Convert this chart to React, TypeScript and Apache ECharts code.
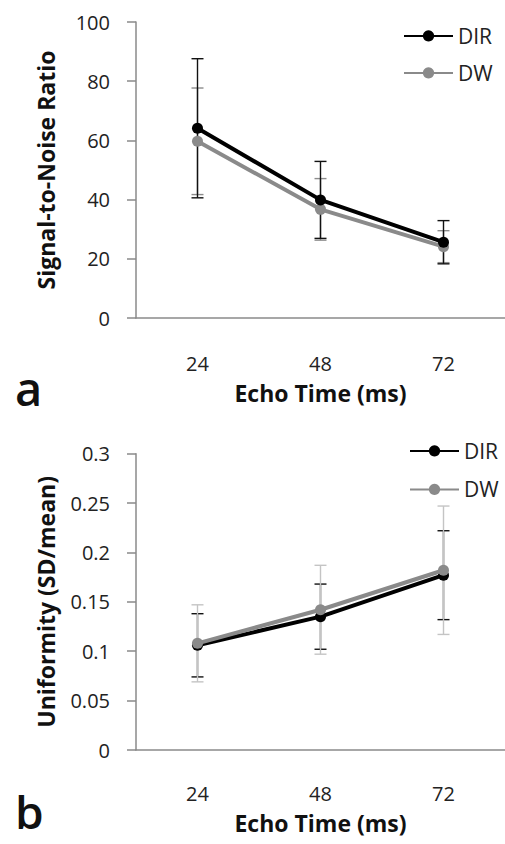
import React, { useEffect, useRef } from "react";
import * as echarts from "echarts";

// Echo times (ms)
const categories = ["24", "48", "72"];

// Panel a: signal-to-noise ratio, mean and SD
const snrDir = [64.1, 39.9, 25.6];
const snrDirSd = [23.5, 13.0, 7.3];
const snrDw = [59.7, 36.7, 24.1];
const snrDwSd = [18.0, 10.4, 5.4];

// Panel b: uniformity (SD/mean), mean and SD
const uniDir = [0.106, 0.135, 0.177];
const uniDirSd = [0.032, 0.033, 0.045];
const uniDw = [0.108, 0.142, 0.182];
const uniDwSd = [0.039, 0.045, 0.065];

const FONT = "'Open Sans', 'Noto Sans', sans-serif";
const TEXT = "#222222";
const AXIS = "#8a8a8a";

function errorData(mean: number[], sd: number[]) {
  return mean.map((m, i) => [i, m - sd[i], m + sd[i]]);
}

function errorBars(
  name: string,
  mean: number[],
  sd: number[],
  color: string,
  axis: number,
  z: number
) {
  return {
    type: "custom",
    name: name + " SD",
    xAxisIndex: axis,
    yAxisIndex: axis,
    z,
    silent: true,
    encode: { x: 0, y: [1, 2] },
    data: errorData(mean, sd),
    renderItem: (_params: any, api: any) => {
      const x = api.value(0);
      const lo = api.coord([x, api.value(1)]);
      const hi = api.coord([x, api.value(2)]);
      const w = 6;
      const style = { stroke: color, lineWidth: 1.4 };
      return {
        type: "group",
        children: [
          { type: "line", shape: { x1: hi[0], y1: hi[1], x2: lo[0], y2: lo[1] }, style },
          { type: "line", shape: { x1: hi[0] - w, y1: hi[1], x2: hi[0] + w, y2: hi[1] }, style },
          { type: "line", shape: { x1: lo[0] - w, y1: lo[1], x2: lo[0] + w, y2: lo[1] }, style },
        ],
      };
    },
  };
}

function lineSeries(name: string, data: number[], color: string, axis: number, z: number) {
  return {
    type: "line",
    name,
    xAxisIndex: axis,
    yAxisIndex: axis,
    data,
    z,
    symbol: "circle",
    symbolSize: 11,
    itemStyle: { color },
    lineStyle: { color, width: 4 },
  };
}

function xAxis(grid: number, margin: number, nameGap: number) {
  return {
    type: "category",
    gridIndex: grid,
    data: categories,
    boundaryGap: true,
    axisTick: { show: false },
    axisLine: { lineStyle: { color: AXIS, width: 1.5 } },
    axisLabel: { color: TEXT, fontSize: 20, fontFamily: FONT, margin },
    name: "Echo Time (ms)",
    nameLocation: "middle",
    nameGap,
    nameTextStyle: { color: "#111", fontSize: 23, fontWeight: "bold", fontFamily: FONT },
  };
}

function yAxis(
  grid: number,
  max: number,
  interval: number,
  name: string,
  fmt: (v: number) => string
) {
  return {
    type: "value",
    gridIndex: grid,
    min: 0,
    max,
    interval,
    splitLine: { show: false },
    axisLine: { show: true, lineStyle: { color: AXIS, width: 1.5 } },
    axisTick: { show: true, length: 9, lineStyle: { color: AXIS, width: 1.5 } },
    axisLabel: { color: TEXT, fontSize: 20, fontFamily: FONT, margin: 26, formatter: fmt },
    name,
    nameLocation: "middle",
    nameGap: 79,
    nameTextStyle: { color: "#111", fontSize: 23, fontWeight: "bold", fontFamily: FONT },
  };
}

function legend(left: number, top: number, gap: number) {
  return {
    orient: "vertical",
    left,
    top,
    padding: 0,
    itemWidth: 49,
    itemHeight: 14,
    itemGap: gap,
    data: ["DIR", "DW"],
    textStyle: { color: TEXT, fontSize: 21, fontFamily: FONT },
  };
}

export default function App() {
  const ref = useRef<HTMLDivElement>(null);

  useEffect(() => {
    if (!ref.current) return;
    const chart = echarts.init(ref.current, undefined, { renderer: "svg" });
    chart.setOption({
      animation: false,
      backgroundColor: "#ffffff",
      grid: [
        { left: 136, top: 22, width: 375, height: 296 },
        { left: 136, top: 453.7, width: 375, height: 296.3 },
      ],
      xAxis: [xAxis(0, 35, 63), xAxis(1, 33, 61)],
      yAxis: [
        yAxis(0, 100, 20, "Signal-to-Noise Ratio", (v) => String(v)),
        yAxis(1, 0.3, 0.05, "Uniformity (SD/mean)", (v) => String(+v.toFixed(2))),
      ],
      legend: [legend(403, 25.4, 16), legend(409, 440.4, 17.5)],
      series: [
        errorBars("DW", snrDw, snrDwSd, "#8c8c8c", 0, 1),
        errorBars("DIR", snrDir, snrDirSd, "#111111", 0, 2),
        lineSeries("DW", snrDw, "#8a8a8a", 0, 3),
        lineSeries("DIR", snrDir, "#000000", 0, 4),
        errorBars("DIR", uniDir, uniDirSd, "#111111", 1, 1),
        errorBars("DW", uniDw, uniDwSd, "#c4c4c4", 1, 2),
        lineSeries("DIR", uniDir, "#000000", 1, 3),
        lineSeries("DW", uniDw, "#8a8a8a", 1, 4),
      ],
      graphic: [
        {
          type: "text",
          left: 15,
          top: 364,
          style: { text: "a", fontSize: 47, fontWeight: 600, fontFamily: FONT, fill: "#111" },
        },
        {
          type: "text",
          left: 15,
          top: 788,
          style: { text: "b", fontSize: 46, fontWeight: 600, fontFamily: FONT, fill: "#111" },
        },
      ],
    });
    return () => chart.dispose();
  }, []);

  return (
    <div
      ref={ref}
      style={{ position: "absolute", left: 0, top: 0, width: 505, height: 844, background: "#fff" }}
    />
  );
}
